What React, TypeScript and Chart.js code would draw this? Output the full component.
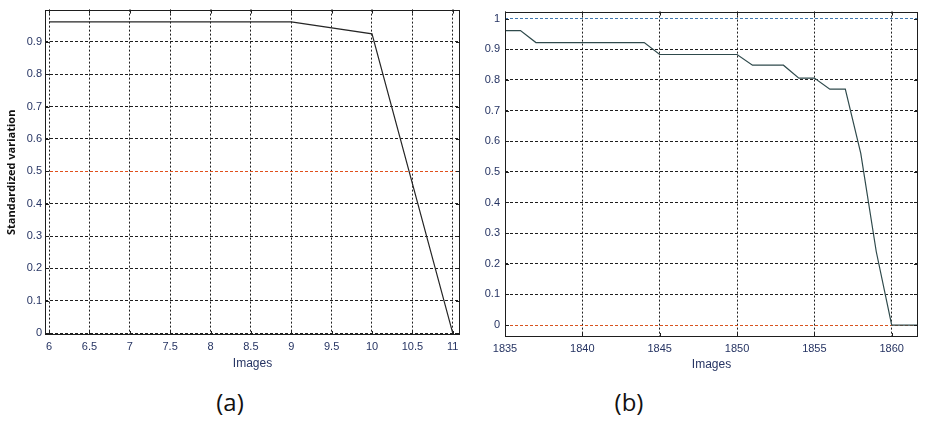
import React, { useEffect, useRef } from "react";
import { Chart, registerables } from "chart.js";

Chart.register(...registerables);

// ---------- Data: panel (a) ----------
const imagesA = [6, 7, 8, 9, 10, 11];
const variationA = [0.962, 0.962, 0.962, 0.962, 0.925, 0];
const xTicksA = [6, 6.5, 7, 7.5, 8, 8.5, 9, 9.5, 10, 10.5, 11];
const yTicksA = [0, 0.1, 0.2, 0.3, 0.4, 0.5, 0.6, 0.7, 0.8, 0.9];

// ---------- Data: panel (b) ----------
const imagesB = [
  1835, 1836, 1837, 1838, 1839, 1840, 1841, 1842, 1843, 1844, 1845, 1846, 1847, 1848,
  1849, 1850, 1851, 1852, 1853, 1854, 1855, 1856, 1857, 1858, 1859, 1860, 1861, 1862,
];
const variationB = [
  0.961, 0.961, 0.922, 0.922, 0.922, 0.922, 0.922, 0.922, 0.922, 0.922, 0.883, 0.883, 0.883, 0.883,
  0.883, 0.883, 0.848, 0.848, 0.848, 0.806, 0.806, 0.77, 0.77, 0.56, 0.24, 0, 0, 0,
];
const xTicksB = [1835, 1840, 1845, 1850, 1855, 1860];
const yTicksB = [0, 0.1, 0.2, 0.3, 0.4, 0.5, 0.6, 0.7, 0.8, 0.9, 1];

const xTitle = "Images";
const yTitleA = "Standardized variation";

const TICK_COLOR = "#263463";
const GRID_COLOR = "#1e1e1e";

const fmt = (v: number) => String(Number(Number(v).toFixed(2)));

const framePlugin = {
  id: "frameBox",
  afterDraw(chart: any) {
    const { ctx, chartArea: a, scales } = chart;
    ctx.save();
    ctx.strokeStyle = "#1e1e1e";
    ctx.lineWidth = 1;
    ctx.strokeRect(Math.round(a.left) + 0.5, Math.round(a.top) + 0.5, Math.round(a.right - a.left) - 1, Math.round(a.bottom - a.top) - 1);
    const L = 4;
    ctx.beginPath();
    scales.x.ticks.forEach((t: any) => {
      const px = Math.round(scales.x.getPixelForValue(t.value)) + 0.5;
      ctx.moveTo(px, a.bottom);
      ctx.lineTo(px, a.bottom - L);
      ctx.moveTo(px, a.top);
      ctx.lineTo(px, a.top + L);
    });
    scales.y.ticks.forEach((t: any) => {
      const py = Math.round(scales.y.getPixelForValue(t.value)) + 0.5;
      ctx.moveTo(a.left, py);
      ctx.lineTo(a.left + L, py);
      ctx.moveTo(a.right, py);
      ctx.lineTo(a.right - L, py);
    });
    ctx.stroke();
    ctx.restore();
  },
};

type PanelProps = {
  xs: number[];
  ys: number[];
  xTicks: number[];
  yTicks: number[];
  xMin: number;
  xMax: number;
  yMin: number;
  yMax: number;
  yTitle?: string;
  width: number;
  height: number;
  yAxisWidth: number;
  xAxisHeight: number;
  padTop: number;
  padRight: number;
  yLabelPad: number;
  lineColor: string;
  gridColorY: (v: number) => string;
  left: number;
};

function Panel(p: PanelProps) {
  const ref = useRef<HTMLCanvasElement | null>(null);
  useEffect(() => {
    if (!ref.current) return;
    const chart = new Chart(ref.current, {
      type: "line",
      data: {
        datasets: [
          {
            data: p.xs.map((x, i) => ({ x, y: p.ys[i] })),
            borderColor: p.lineColor,
            borderWidth: 1.2,
            pointRadius: 0,
            tension: 0,
            fill: false,
          },
        ],
      },
      options: {
        responsive: false,
        animation: false,
        events: [],
        layout: { padding: { left: 0, top: p.padTop, right: p.padRight, bottom: 0 } },
        plugins: { legend: { display: false }, tooltip: { enabled: false } },
        scales: {
          x: {
            type: "linear",
            min: p.xMin,
            max: p.xMax,
            afterBuildTicks: (s: any) => {
              s.ticks = p.xTicks.map((v) => ({ value: v }));
            },
            afterFit: (s: any) => {
              s.height = p.xAxisHeight;
            },
            ticks: {
              color: TICK_COLOR,
              font: { family: "Liberation Sans", size: 11 },
              padding: 5,
              autoSkip: false,
              maxRotation: 0,
              callback: (v: any) => fmt(v),
            },
            grid: { color: GRID_COLOR, lineWidth: 1, drawTicks: false },
            border: { display: false, dash: [2, 2] },
            title: {
              display: true,
              text: xTitle,
              color: TICK_COLOR,
              font: { family: "Liberation Sans", size: 12 },
              padding: { top: 0, bottom: 5 },
            },
          },
          y: {
            type: "linear",
            min: p.yMin,
            max: p.yMax,
            afterBuildTicks: (s: any) => {
              s.ticks = p.yTicks.map((v) => ({ value: v }));
            },
            afterFit: (s: any) => {
              s.width = p.yAxisWidth;
            },
            ticks: {
              color: TICK_COLOR,
              font: { family: "Liberation Sans", size: 11 },
              padding: p.yLabelPad,
              callback: (v: any) => fmt(v),
            },
            grid: {
              color: (c: any) => (c.tick ? p.gridColorY(c.tick.value) : GRID_COLOR),
              lineWidth: 1,
              drawTicks: false,
            },
            border: { display: false, dash: [3, 2] },
            title: {
              display: !!p.yTitle,
              text: p.yTitle || "",
              color: "#111",
              font: { family: "Open Sans", size: 11, weight: "bold" },
              padding: { top: 5, bottom: 0 },
            },
          },
        },
      },
      plugins: [framePlugin],
    } as any);
    return () => chart.destroy();
  }, []);
  return (
    <canvas
      ref={ref}
      width={p.width}
      height={p.height}
      style={{ position: "absolute", left: p.left, top: 0, width: p.width, height: p.height }}
    />
  );
}

export default function App() {
  useEffect(() => {
    document.body.style.margin = "0";
  }, []);
  const caption: React.CSSProperties = {
    position: "absolute",
    width: 100,
    textAlign: "center",
    fontFamily: "Open Sans",
    fontSize: 24,
    lineHeight: "1",
    color: "#111",
    top: 390,
  };
  return (
    <div style={{ position: "absolute", left: 0, top: 0, width: 927, height: 425, background: "#fff", overflow: "hidden" }}>
      <Panel
        xs={imagesA}
        ys={variationA}
        xTicks={xTicksA}
        yTicks={yTicksA}
        xMin={5.95}
        xMax={11.09}
        yMin={-0.006}
        yMax={1.0}
        yTitle={yTitleA}
        width={465}
        height={376}
        yAxisWidth={45}
        xAxisHeight={41}
        padTop={8}
        padRight={5}
        yLabelPad={3}
        lineColor="#262626"
        gridColorY={(v) => (v === 0.5 ? "#e0501c" : GRID_COLOR)}
        left={0}
      />
      <Panel
        xs={imagesB}
        ys={variationB}
        xTicks={xTicksB}
        yTicks={yTicksB}
        xMin={1835}
        xMax={1861.7}
        yMin={-0.039}
        yMax={1.023}
        width={462}
        height={377}
        yAxisWidth={40}
        xAxisHeight={40}
        padTop={9}
        padRight={9}
        yLabelPad={5}
        lineColor="#2f4a4c"
        gridColorY={(v) => (v === 1 ? "#3f78b0" : v === 0 ? "#d8541f" : GRID_COLOR)}
        left={465}
      />
      <div style={{ ...caption, left: 180 }}>(a)</div>
      <div style={{ ...caption, left: 579 }}>(b)</div>
    </div>
  );
}
